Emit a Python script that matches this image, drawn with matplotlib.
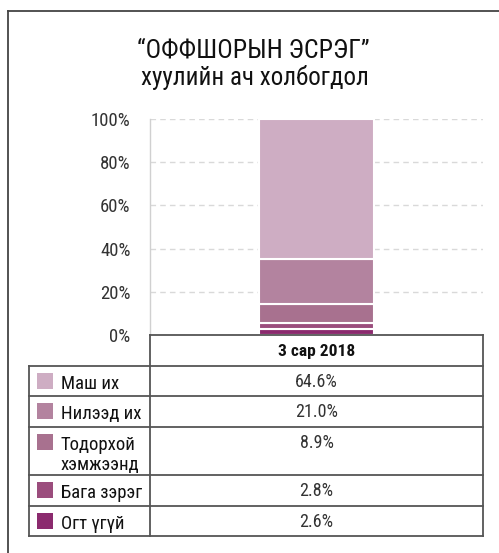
import matplotlib
matplotlib.use("Agg")
import matplotlib.pyplot as plt
from matplotlib.patches import Rectangle
from matplotlib.lines import Line2D

plt.rcParams['font.family'] = ['Roboto Condensed', 'Roboto', 'DejaVu Sans']

categories = ["Маш их", "Нилээд их", "Тодорхой\nхэмжээнд", "Бага зэрэг", "Огт үгүй"]
values = [64.6, 21.0, 8.9, 2.8, 2.6]
value_labels = ["64.6%", "21.0%", "8.9%", "2.8%", "2.6%"]
colors = ["#CEADC3", "#B3839F", "#A8718F", "#9B4D7D", "#8B2A6E"]
period = "3 сар 2018"
yticks = [0, 20, 40, 60, 80, 100]
ytick_labels = ["0%", "20%", "40%", "60%", "80%", "100%"]
title_lines = ["“ОФФШОРЫН ЭСРЭГ”", "хуулийн ач холбогдол"]

W, H = 499, 553
fig = plt.figure(figsize=(W / 100, H / 100), dpi=100)

def fx(x):
    return x / W

def fy(y):
    return 1 - y / H

# main chart axes
ax = fig.add_axes([fx(150), fy(335), fx(483) - fx(150), fy(119) - fy(335)])
ax.set_xlim(-0.5, 0.5)
ax.set_ylim(0, 100)
bottom = 0
for v, c in zip(values[::-1], colors[::-1]):
    ax.bar(0, v, width=0.343, bottom=bottom, color=c, edgecolor="white", linewidth=1.5, zorder=3)
    bottom += v
ax.set_yticks(yticks)
ax.set_yticklabels(ytick_labels, fontsize=13.5, color="#333333")
ax.tick_params(axis="y", length=0, pad=14)
ax.set_xticks([])
ax.yaxis.grid(True, linestyle=(0, (4, 3)), color="#d9d9d9", linewidth=1, zorder=0)
for s in ["top", "right", "bottom"]:
    ax.spines[s].set_visible(False)
ax.spines["left"].set_color("#d0d0d0")
ax.spines["left"].set_linewidth(1)

# overlay axes in pixel coordinates
ov = fig.add_axes([0, 0, 1, 1], zorder=5)
ov.set_xlim(0, W)
ov.set_ylim(H, 0)
ov.axis("off")
ov.patch.set_alpha(0)

# frame (top and left visible)
ov.add_line(Line2D([8, 8], [553, 11], color="#444444", linewidth=1.3))
ov.add_line(Line2D([8, 499], [11, 11], color="#444444", linewidth=1.3))

# title
ov.text(253, 58, title_lines[0], ha="center", va="baseline", fontsize=18.5, color="#111111")
ov.text(255, 85, title_lines[1], ha="center", va="baseline", fontsize=18, color="#111111")

# table
lc = "#555555"
lw = 1.3
row_bounds = [366, 396, 427, 475, 506, 536]
xl, xm, xr = 29, 150, 483
ov.add_line(Line2D([xm, xr], [335, 335], color=lc, linewidth=lw))
ov.add_line(Line2D([xm, xm], [335, 536], color=lc, linewidth=lw))
ov.add_line(Line2D([xr, xr], [335, 536], color=lc, linewidth=lw))
ov.add_line(Line2D([xl, xl], [366, 536], color=lc, linewidth=lw))
for yb in row_bounds:
    ov.add_line(Line2D([xl, xr], [yb, yb], color=lc, linewidth=lw))
ov.text((xm + xr) / 2, 356, period, ha="center", va="baseline", fontsize=12.5,
        fontweight="bold", color="#111111")

for i, (cat, lab, c) in enumerate(zip(categories, value_labels, colors)):
    top = row_bounds[i]
    ov.add_patch(Rectangle((37, top + 7), 16, 16, facecolor=c, edgecolor="none"))
    for k, line in enumerate(cat.split("\n")):
        ov.text(61, top + 23 + 20 * k, line, ha="left", va="baseline", fontsize=13.5,
                color="#111111")
    ov.text((xm + xr) / 2, top + 21, lab, ha="center", va="baseline", fontsize=13,
            color="#333333")

fig.savefig("out.png", dpi=100)
